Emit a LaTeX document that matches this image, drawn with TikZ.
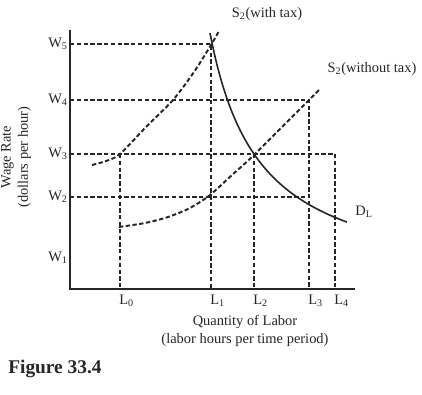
\documentclass[tikz,border=0pt]{standalone}
\usepackage{fontspec}
\setmainfont{Liberation Serif}
\usepackage{tikz}
\usetikzlibrary{calc}

\begin{document}
\begin{tikzpicture}[x=0.0243cm, y=-0.0243cm, color=black!85,
		guide/.style={line width=1.35pt, dash pattern=on 3pt off 1.7pt},
		tick/.style={inner sep=0pt, font=\fontsize{10}{12}\selectfont}]
				\useasboundingbox (0,0) rectangle (422,395);
				% Define the positions of the wage levels and labor quantities
				\def\Wone{258}
				\def\Wtwo{197}
				\def\Wthree{154}
				\def\Wfour{100}
				\def\Wfive{44}
				\def\Lzero{120}
				\def\Lone{211}
				\def\Ltwo{254}
				\def\Lthree{309}
				\def\Lfour{335}
				
				% Axes
				\coordinate (O) at (70,289);
				\draw[line width=1.4pt] (70,30) -- (O) -- (355,289);
				
				% Wage labels
				\node[tick, anchor=east] (w1) at (68,\Wone) {W\textsubscript{1}};
				\node[tick, anchor=east] (w2) at (68,\Wtwo) {W\textsubscript{2}};
				\node[tick, anchor=east] (w3) at (68,\Wthree) {W\textsubscript{3}};
				\node[tick, anchor=east] (w4) at (68,\Wfour) {W\textsubscript{4}};
				\node[tick, anchor=east] (w5) at (68,\Wfive) {W\textsubscript{5}};
				
				% Labor labels
				\node[tick, anchor=north west] (l0) at (\Lzero-1,295) {L\textsubscript{0}};
				\node[tick, anchor=north west] (l1) at (\Lone-1,295) {L\textsubscript{1}};
				\node[tick, anchor=north west] (l2) at (\Ltwo-1,295) {L\textsubscript{2}};
				\node[tick, anchor=north west] (l3) at (\Lthree-1,295) {L\textsubscript{3}};
				\node[tick, anchor=north west] (l4) at (\Lfour-1,295) {L\textsubscript{4}};
				
				% Dashed guide lines
				\draw[guide] (70,\Wfive) -- (\Lone,\Wfive) -- (\Lone,289);
				\draw[guide] (70,\Wfour) -- (\Lthree,\Wfour) -- (\Lthree,289);
				\draw[guide] (70,\Wthree) -- (\Lfour,\Wthree) -- (\Lfour,289);
				\draw[guide] (70,\Wtwo) -- (\Lthree,\Wtwo);
				\draw[guide] (\Lzero,\Wthree) -- (\Lzero,289);
				\draw[guide] (\Ltwo,\Wthree) -- (\Ltwo,289);
				
				% Supply curves
				\draw[guide] plot[smooth] coordinates {(92,165) (106,161) (120,154) (146,127) (173,100) (194,72) (211,45) (219,31)};
				\draw[guide] plot[smooth] coordinates {(119,227) (145,223) (168,217) (190,208) (210,195) (232,175) (255,154) (309,100) (320,89)};
				
				% Demand curve
				\draw[line width=1.1pt] plot[domain=210:347, samples=60] (\x, {290.7 - 12807/(\x-160.3)});
				
				% Curve labels
				\node[tick] (stax) at (267,14) {S\textsubscript{2}(with tax)};
				\node[tick] (snotax) at (372,69) {S\textsubscript{2}(without tax)};
				\node[tick] (dl) at (364,212) {D\textsubscript{L}};
				
				% Axis titles
				\node[tick, align=center] (xtitle) at (245,331) {Quantity of Labor\\(labor hours per time period)};
				\node[tick, align=center, rotate=90] (ytitle) at (16,157) {Wage Rate\\(dollars per hour)};
				\node[anchor=base west, inner sep=0pt, font=\fontsize{13.4}{16}\selectfont\bfseries] (fig) at (8,374) {Figure 33.4};
			\end{tikzpicture}
\end{document}
